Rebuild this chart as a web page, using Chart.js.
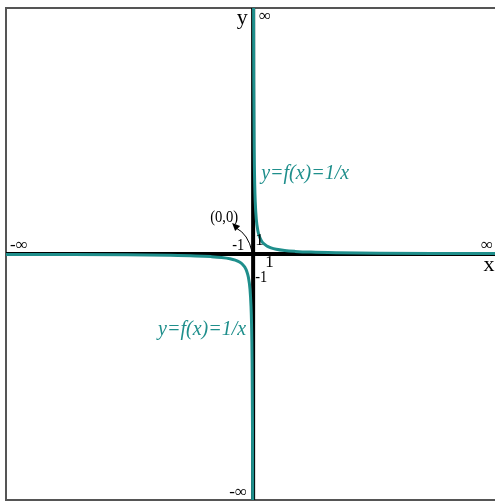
<!DOCTYPE html>
<html>
<head>
<meta charset="utf-8">
<script src="https://cdn.jsdelivr.net/npm/chart.js@4/dist/chart.umd.min.js"></script>
<style>
  html, body { margin: 0; padding: 0; background: #fff; overflow: hidden; }
  #wrap { position: absolute; left: 0; top: 0; }
</style>
</head>
<body>
<div id="wrap"><canvas id="hyperbola" width="495" height="502"></canvas></div>
<script>
// Points (x, y) for each branch
const rightX = [0.04, 0.06, 0.1, 0.15, 0.2, 0.3, 0.45, 0.6, 0.8, 1, 1.3, 1.7, 2.2, 3, 4, 5.5, 8, 12, 18, 24];
const rightY = [25, 16.7, 10, 6.67, 5, 3.33, 2.22, 1.67, 1.25, 1, 0.77, 0.59, 0.45, 0.33, 0.25, 0.18, 0.125, 0.083, 0.056, 0.042];
const leftX = [-0.04, -0.06, -0.1, -0.15, -0.2, -0.3, -0.45, -0.6, -0.8, -1, -1.3, -1.7, -2.2, -3, -4, -5.5, -8, -12, -18, -24];
const leftY = [-25, -16.7, -10, -6.67, -5, -3.33, -2.22, -1.67, -1.25, -1, -0.77, -0.59, -0.45, -0.33, -0.25, -0.18, -0.125, -0.083, -0.056, -0.042];

// Axis ranges (right edge of the frame is cut off) and labels
const xMin = -23.5;
const xMax = 23.0;
const yMin = -23.5;
const yMax = 23.5;
const curveLabel = 'y=f(x)=1/x';
const unitLabels = ['-1', '1', '1', '-1'];

const teal = '#1f8f8c';

function toPoints(xs, ys) {
  return xs.map((x, i) => ({ x: x, y: ys[i] }));
}

// Draw frame and the two axes under the curve
const axesPlugin = {
  id: 'axes',
  beforeDatasetsDraw(chart) {
    const ctx = chart.ctx;
    const a = chart.chartArea;
    const ox = chart.scales.x.getPixelForValue(0);
    const oy = chart.scales.y.getPixelForValue(0);
    ctx.save();
    ctx.strokeStyle = '#555';
    ctx.lineWidth = 2;
    ctx.beginPath();
    ctx.moveTo(chart.width + 10, a.top);
    ctx.lineTo(a.left, a.top);
    ctx.lineTo(a.left, a.bottom);
    ctx.lineTo(chart.width + 10, a.bottom);
    ctx.stroke();
    ctx.strokeStyle = '#000';
    ctx.lineWidth = 4;
    ctx.beginPath();
    ctx.moveTo(a.left, oy);
    ctx.lineTo(a.right, oy);
    ctx.moveTo(ox, a.top);
    ctx.lineTo(ox, a.bottom);
    ctx.stroke();
    ctx.restore();
  }
};

// Text labels and the (0,0) pointer
const labelsPlugin = {
  id: 'labels',
  afterDraw(chart) {
    const ctx = chart.ctx;
    const ox = chart.scales.x.getPixelForValue(0);
    const oy = chart.scales.y.getPixelForValue(0);
    ctx.save();
    ctx.fillStyle = '#000';
    ctx.textBaseline = 'alphabetic';

    ctx.font = '22px "Liberation Serif"';
    ctx.textAlign = 'center';
    ctx.fillText('y', ox - 11, 24);
    ctx.fillText('x', 489, oy + 17);

    ctx.font = '17px "Liberation Serif"';
    ctx.fillText('\u221E', ox + 12, 21);
    ctx.fillText('\u221E', 487, oy - 4);
    ctx.fillText('-\u221E', 19, oy - 4);
    ctx.fillText('-\u221E', ox - 15, 497);

    ctx.font = '17px "Liberation Serif"';
    ctx.textAlign = 'left';
    ctx.fillText(unitLabels[0], ox - 21, oy - 4, 12);
    ctx.fillText(unitLabels[1], ox + 2, oy - 9);
    ctx.fillText(unitLabels[2], ox + 12, oy + 13);
    ctx.fillText(unitLabels[3], ox + 2, oy + 28, 12);
    ctx.font = '17px "Liberation Serif"';
    ctx.fillText('(0,0)', ox - 43, oy - 32, 28);

    // pointer from label to origin
    ctx.strokeStyle = '#000';
    ctx.lineWidth = 1;
    ctx.beginPath();
    ctx.moveTo(ox - 17, oy - 26);
    ctx.quadraticCurveTo(ox - 5, oy - 20, ox - 1, oy - 2);
    ctx.stroke();
    ctx.beginPath();
    ctx.moveTo(ox - 21, oy - 31);
    ctx.lineTo(ox - 13, oy - 28);
    ctx.lineTo(ox - 18, oy - 23);
    ctx.closePath();
    ctx.fill();

    ctx.fillStyle = teal;
    ctx.font = 'italic 20px "Liberation Serif"';
    ctx.fillText(curveLabel, ox + 8, oy - 75);
    ctx.textAlign = 'right';
    ctx.fillText(curveLabel, ox - 7, oy + 81);
    ctx.restore();
  }
};

new Chart(document.getElementById('hyperbola'), {
  type: 'scatter',
  data: {
    datasets: [
      {
        data: toPoints(rightX, rightY),
        showLine: true,
        borderColor: teal,
        borderWidth: 3,
        pointRadius: 0,
        cubicInterpolationMode: 'monotone'
      },
      {
        data: toPoints(leftX, leftY),
        showLine: true,
        borderColor: teal,
        borderWidth: 3,
        pointRadius: 0,
        cubicInterpolationMode: 'monotone'
      }
    ]
  },
  options: {
    responsive: false,
    animation: false,
    layout: { padding: { left: 6, top: 8, right: 0, bottom: 2 } },
    plugins: {
      legend: { display: false },
      tooltip: { enabled: false }
    },
    scales: {
      x: { type: 'linear', min: xMin, max: xMax, display: false },
      y: { type: 'linear', min: yMin, max: yMax, display: false }
    }
  },
  plugins: [axesPlugin, labelsPlugin]
});
</script>
</body>
</html>
